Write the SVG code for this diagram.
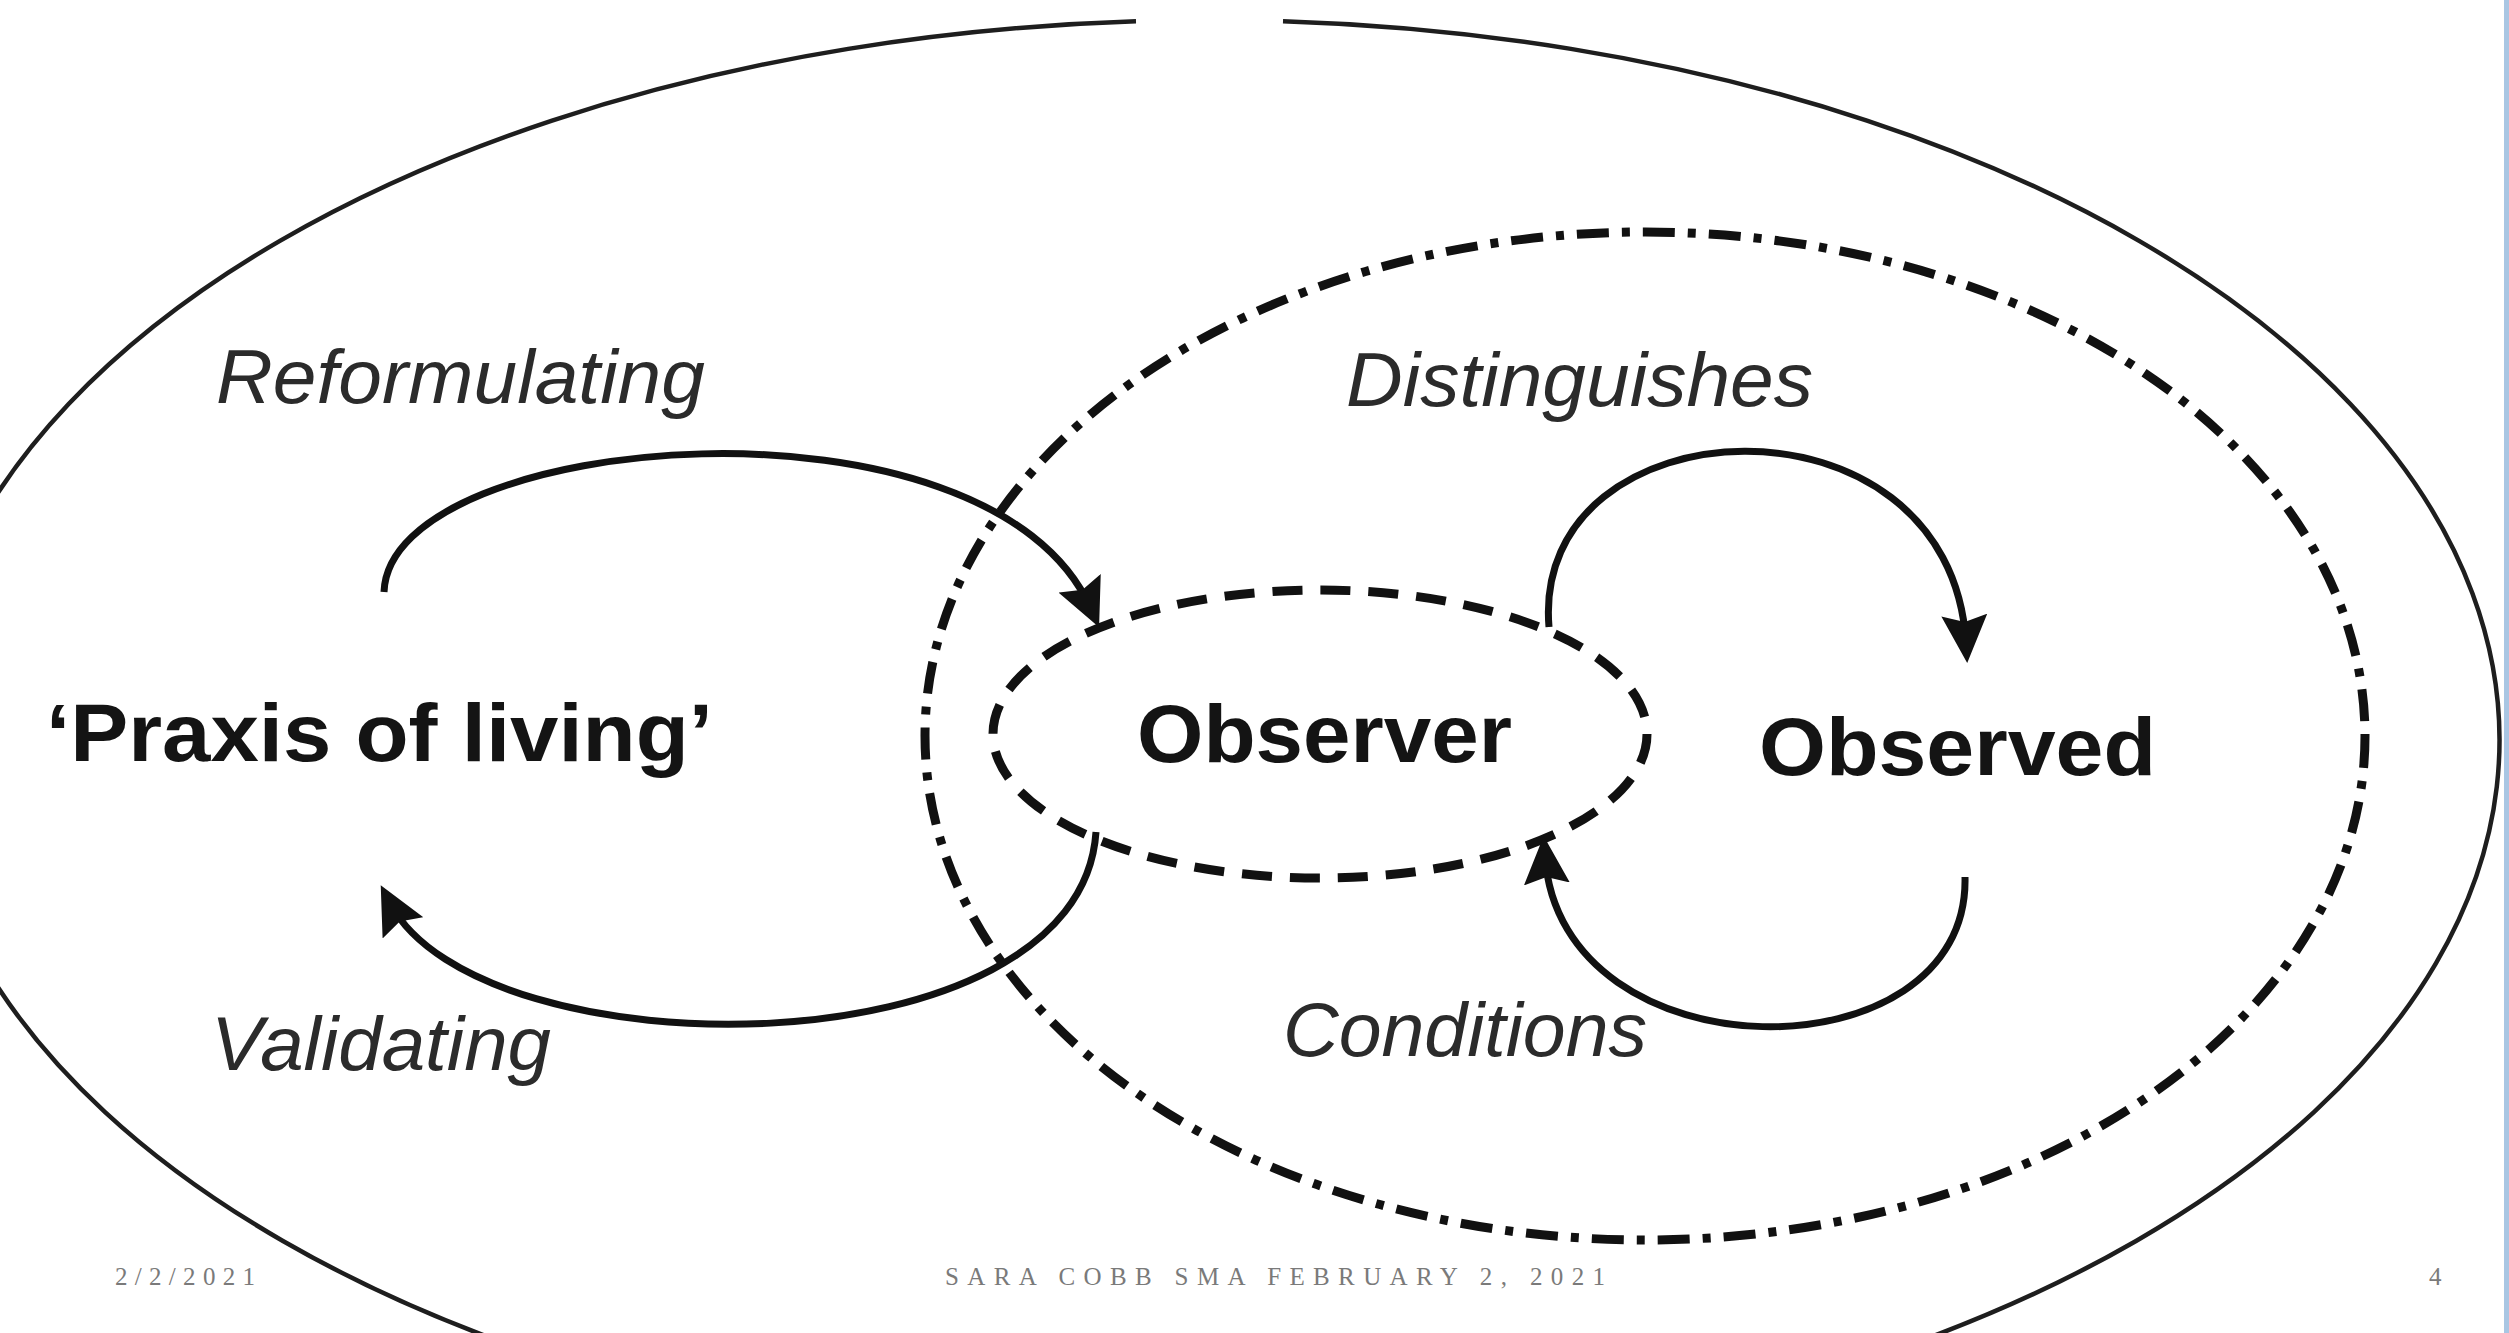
<svg xmlns="http://www.w3.org/2000/svg" width="2509" height="1333" viewBox="0 0 2509 1333">
<style>
.outer{fill:none;stroke:#1e1e1e;stroke-width:4.5}
.mid{fill:none;stroke:#111;stroke-width:9;stroke-dasharray:32 13 8 13}
.inner{fill:none;stroke:#111;stroke-width:9;stroke-dasharray:30 18}
.arrow{fill:none;stroke:#111;stroke-width:7;marker-end:url(#ah)}
.bold{font-family:"Liberation Sans",Arial,Helvetica,sans-serif;font-weight:bold;font-size:82px;fill:#141414}
.ital{font-family:"Liberation Sans",Arial,Helvetica,sans-serif;font-style:italic;font-size:76px;fill:#2b2b2b}
.foot{font-family:"Liberation Serif","Times New Roman",serif;font-size:25px;fill:#7a7a7a}
</style>
<defs>
<marker id="ah" markerUnits="userSpaceOnUse" markerWidth="48" markerHeight="46" viewBox="0 0 48 46" refX="28" refY="23" orient="auto">
<path d="M0,0 L48,23 L0,46 L7,23 z" fill="#111"/>
</marker>
</defs>
<rect x="0" y="0" width="2509" height="1333" fill="#ffffff"/>
<rect x="2504" y="0" width="5" height="1333" fill="#a9c6e3"/>

<g id="praxis-domain">
<path class="outer" d="M1136 21.2 A1290 720 0 1 0 1283 21.2"/>
<text class="bold" x="46" y="761" textLength="667" lengthAdjust="spacingAndGlyphs">‘Praxis of living’</text>
</g>

<g id="observing-domain">
<ellipse class="mid" cx="1645" cy="736" rx="720" ry="504"/>
</g>

<g id="observer">
<ellipse class="inner" cx="1320" cy="734" rx="327" ry="144"/>
<text class="bold" x="1137" y="762" textLength="375" lengthAdjust="spacingAndGlyphs">Observer</text>
</g>

<g id="observed">
<text class="bold" x="1759" y="775" textLength="397" lengthAdjust="spacingAndGlyphs">Observed</text>
</g>

<g id="connectors">
<path class="arrow" d="M384 592 C390 430, 990 380, 1091 609"/>
<path class="arrow" d="M1096 832 C1080 1075, 480 1075, 390 903"/>
<path class="arrow" d="M1549 627 C1530 400, 1950 380, 1966 643"/>
<path class="arrow" d="M1965 877 C1970 1080, 1560 1080, 1545 856"/>
</g>

<g id="labels">
<text class="ital" x="216" y="403" textLength="489" lengthAdjust="spacingAndGlyphs">Reformulating</text>
<text class="ital" x="1346" y="406" textLength="467" lengthAdjust="spacingAndGlyphs">Distinguishes</text>
<text class="ital" x="211" y="1070" textLength="340" lengthAdjust="spacingAndGlyphs">Validating</text>
<text class="ital" x="1283" y="1056" textLength="364" lengthAdjust="spacingAndGlyphs">Conditions</text>
</g>

<g id="footer">
<text class="foot" x="115" y="1285" textLength="140" lengthAdjust="spacing">2/2/2021</text>
<text class="foot" x="945" y="1285" textLength="660" lengthAdjust="spacing">SARA COBB SMA FEBRUARY 2, 2021</text>
<text class="foot" x="2429" y="1285">4</text>
</g>
</svg>
